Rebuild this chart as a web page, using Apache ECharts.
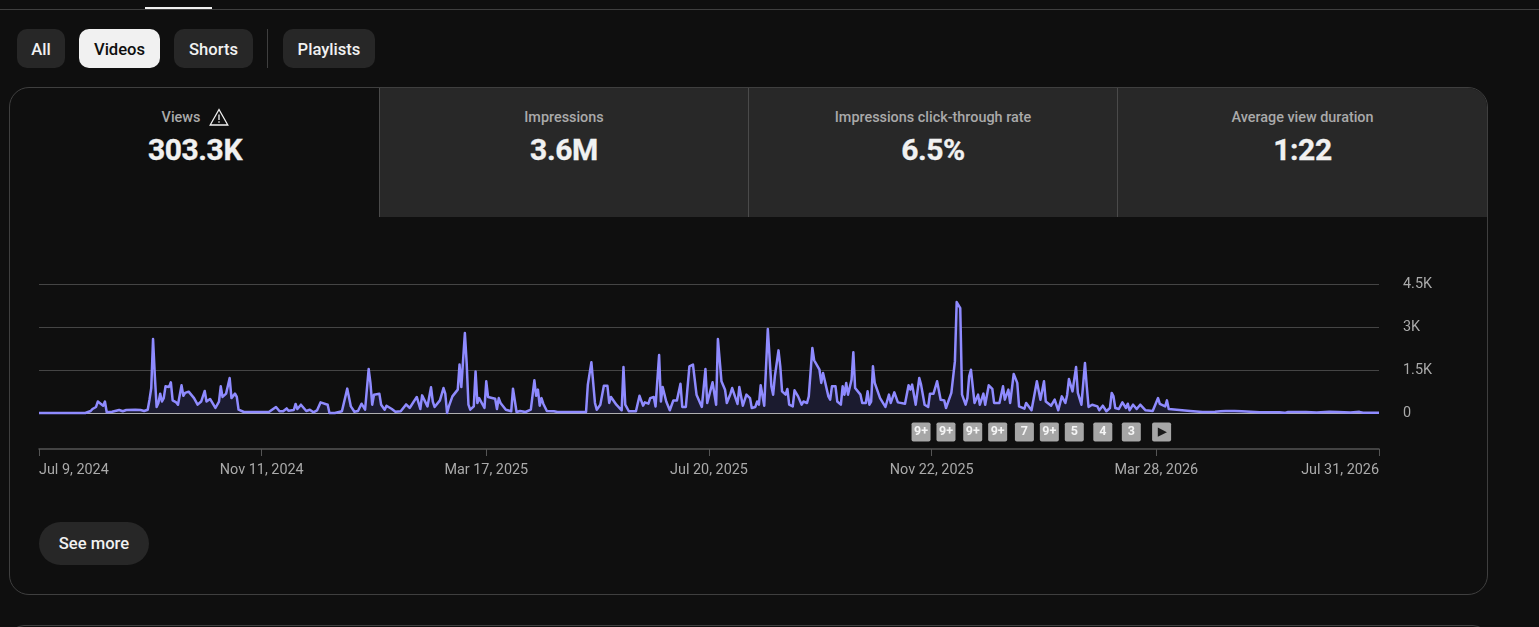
<!DOCTYPE html>
<html><head><meta charset="utf-8">
<script src="https://cdn.jsdelivr.net/npm/echarts@6/dist/echarts.min.js"></script>
<style>
html,body{margin:0;padding:0;background:#0f0f0f;width:1539px;height:627px;overflow:hidden;font-family:Roboto,sans-serif}
#chart{position:absolute;left:0;top:0;width:1539px;height:627px}
.a{position:absolute;box-sizing:border-box}
.chip{top:29px;height:39px;border-radius:10px;background:#272727;color:#f1f1f1;font-size:16.6px;font-weight:500;line-height:41px;text-align:center}
.tab{top:88px;height:129px;background:#282828;border-left:1px solid #4a4a4a}
.lab{top:110px;font-size:14.4px;line-height:16px;font-weight:500;color:#aaa;text-align:center}
.val{top:132px;font-size:30px;line-height:36px;font-weight:700;color:#f1f1f1;text-align:center;letter-spacing:-.4px;-webkit-text-stroke:.35px #f1f1f1}
</style></head><body>
<div class="a" style="left:0;top:9px;width:1539px;height:1px;background:#3f3f3f"></div>
<div class="a" style="left:145px;top:7px;width:67px;height:2px;background:#f1f1f1"></div>
<div class="a chip" style="left:17px;width:48px">All</div>
<div class="a chip" style="left:79px;width:81px;background:#f1f1f1;color:#0f0f0f">Videos</div>
<div class="a chip" style="left:174px;width:79px">Shorts</div>
<div class="a" style="left:267px;top:29px;width:1px;height:39px;background:#3f3f3f"></div>
<div class="a chip" style="left:283px;width:92px">Playlists</div>
<div class="a" style="left:9px;top:87px;width:1479px;height:508px;border:1px solid #3f3f3f;border-radius:20px;overflow:hidden">
</div>
<div class="a tab" style="left:379px;width:369px"></div>
<div class="a tab" style="left:748px;width:369px"></div>
<div class="a tab" style="left:1117px;width:370px;border-top-right-radius:19px"></div>
<div class="a lab" style="left:10px;width:342px">Views</div>
<svg class="a" style="left:209px;top:108px" width="20" height="18" viewBox="0 0 20 18"><path d="M10 1.5 L18.8 17 H1.2 Z" fill="none" stroke="#f1f1f1" stroke-width="1.3"/><path d="M10 6.5v5.5M10 13.2v1.6" stroke="#f1f1f1" stroke-width="1.3"/></svg>
<div class="a val" style="left:10px;width:370px">303.3K</div>
<div class="a lab" style="left:380px;width:368px">Impressions</div>
<div class="a val" style="left:380px;width:368px">3.6M</div>
<div class="a lab" style="left:749px;width:368px">Impressions click-through rate</div>
<div class="a val" style="left:749px;width:368px">6.5%</div>
<div class="a lab" style="left:1118px;width:369px">Average view duration</div>
<div class="a val" style="left:1118px;width:369px">1:22</div>
<div class="a chip" style="left:39px;top:522px;width:110px;height:43px;line-height:43px;border-radius:22px">See more</div>
<div class="a" style="left:9px;top:625px;width:1479px;height:30px;border:1px solid #3f3f3f;border-radius:20px"></div>
<div id="chart"></div>
<script>
// [day offset from the start date, views]
const startDate = '2024-07-09';
const views2024 = [[0,0],[26,0],[29,70],[30,140],[32,210],[33,400],[34,465],[36,255],[37,400],[38,25],[41,45],[45,105],[47,60],[49,105],[50,70],[54,115],[57,105],[59,70],[61,115],[62,465],[63,870],[64,2580],[65,1300],[66,210],[67,350],[68,675],[69,400],[70,520],[71,930],[73,910],[74,1070],[75,440],[77,370],[78,290],[80,965],[81,600],[82,700],[84,745],[87,520],[89,290],[91,400],[93,770],[94,400],[96,490],[99,175],[101,400],[102,930],[103,560],[105,675],[107,1220],[108,520],[110,675],[111,560],[112,115],[115,35],[129,35],[133,210],[135,60],[137,60],[139,160],[140,80],[143,105],[144,315],[145,140],[147,290],[148,340],[150,70],[152,115],[154,25],[156,90],[158,370],[159,385],[162,290],[163,0],[166,0],[170,60],[173,850],[175,230]];
const views2025a = [[177,45],[179,70],[181,325],[183,115],[184,90],[185,1535],[186,1050],[187,290],[188,640],[191,675],[192,290],[194,115],[195,255],[198,140],[200,45],[203,60],[204,0],[206,300],[208,175],[209,160],[212,560],[214,140],[215,615],[216,580],[218,230],[220,895],[221,400],[222,210],[225,440],[226,490],[227,870],[228,675],[229,0],[230,230],[231,175],[232,580],[235,815],[236,1690],[237,905],[239,2790],[240,1750],[241,290],[242,115],[244,230],[245,1450],[246,350],[247,520],[250,175],[251,1105],[252,560],[256,500],[257,140],[258,520],[259,350],[260,385],[262,115],[265,60],[266,850],[268,35],[270,70],[273,35],[276,115],[278,1140],[279,600],[280,815],[281,255],[282,520],[283,325],[284,325],[285,70],[289,60],[290,80],[291,35],[302,35],[303,0],[307,35],[308,990],[309,1020],[310,1770],[312,350],[313,115],[315,290],[317,950],[319,950],[320,350],[321,560],[324,290],[327,95],[328,1605],[329,290],[331,60],[335,60],[337,600],[339,255],[340,370],[342,325],[343,520],[344,465],[345,560],[346,230],[348,2020],[349,400],[350,905],[352,400],[354,95],[356,440],[358,440],[360,1020],[361,210],[363,210],[365,1630],[367,1690],[369,640],[371,350],[372,210],[374,1535],[375,350],[376,370],[378,1070],[380,290],[381,2580],[383,1105],[385,815],[386,350],[387,350],[388,665],[389,870],[392,315],[393,905],[395,255],[397,640],[399,520],[400,175],[402,210],[403,400],[404,290],[405,965],[407,255],[409,2930],[410,2940],[411,930],[412,640],[413,1300],[414,1340],[415,2185],[416,1630],[417,755],[419,640],[420,840],[421,290],[423,230],[424,790],[426,580],[428,290],[429,400],[431,350],[432,580],[434,2270],[435,1840],[438,1510],[439,1050],[440,1395],[441,1370],[443,580],[444,465],[445,930],[447,930],[448,400],[450,290],[451,930],[452,640],[453,1050],[454,640],[456,1160],[457,2115],[458,870],[461,640],[462,350],[464,350],[465,755],[466,290],[467,400],[468,1630],[469,1050],[470,1020],[472,520],[475,210],[477,640],[478,350],[480,720],[482,370],[486,325],[488,965],[489,815],[490,990],[492,290],[494,1220],[495,990],[497,290],[499,210]];
const views2026 = [[500,675],[502,675],[504,1105],[506,465],[508,440],[509,175],[512,700],[514,1800],[515,3870],[516,3840],[517,3660],[518,640],[519,640],[520,290],[521,520],[522,1280],[523,1510],[525,350],[527,640],[528,290],[530,675],[531,290],[533,965],[535,840],[536,350],[539,350],[541,930],[542,465],[544,815],[545,350],[547,1360],[549,1050],[550,230],[553,150],[554,350],[557,95],[558,95],[560,1105],[562,465],[564,1105],[565,400],[568,255],[570,465],[572,95],[574,580],[576,350],[577,640],[578,1186],[580,755],[582,1605],[583,700],[585,290],[586,350],[587,1745],[588,930],[589,210],[591,290],[594,230],[595,95],[597,255],[599,60],[601,175],[602,700],[603,580],[604,175],[606,140],[608,370],[610,175],[611,325],[612,95],[614,290],[616,140],[618,290],[621,95],[625,70],[626,60],[628,520],[629,315],[632,230],[633,440],[634,140],[635,80],[646,70],[647,35],[653,35],[654,80],[655,35],[656,70],[660,40],[661,70],[663,65],[664,40],[666,70],[667,40],[671,70],[672,40],[675,60],[676,35],[685,30],[686,5],[687,30],[696,30],[697,10],[699,5],[701,35],[707,35],[708,10],[711,35],[712,10],[717,15],[718,45],[724,40],[729,35],[730,10],[736,15],[737,55],[741,40],[742,50],[743,10],[752,10]];
const yTicks = [0,1500,3000,4500];
const yLabels = ['0','1.5K','3K','4.5K'];
const tickDates = ['2024-07-09','2024-11-11','2025-03-17','2025-07-20','2025-11-22','2026-03-28','2026-07-31'];
const tickLabels = ['Jul 9, 2024','Nov 11, 2024','Mar 17, 2025','Jul 20, 2025','Nov 22, 2025','Mar 28, 2026','Jul 31, 2026'];
const badgeDays = [495,509,524,538,553,567,581,597,613,630];
const badgeLabels = ['9+','9+','9+','9+','7','9+','5','4','3','▶'];

const DAY = 86400000, t0 = Date.parse(startDate + 'T00:00:00Z');
const toTime = d => t0 + d * DAY;
const tickTimes = tickDates.map(d => Date.parse(d + 'T00:00:00Z'));
const lineData = [...views2024, ...views2025a, ...views2026].map(([d, v]) => [toTime(d), v]);
const badgeData = badgeDays.map((d, i) => ({
  value: [toTime(d), -660],
  label: badgeLabels[i] === '▶' ? { formatter: badgeLabels[i], color: '#1a1a1a', fontSize: 11 } : { formatter: badgeLabels[i] }
}));
const chart = echarts.init(document.getElementById('chart'), null, { renderer: 'canvas' });
chart.setOption({
  animation: false,
  backgroundColor: 'transparent',
  textStyle: { fontFamily: 'Roboto' },
  grid: { left: 39, right: 160, top: 284, bottom: 214 },
  xAxis: {
    type: 'value', min: tickTimes[0], max: tickTimes[tickTimes.length - 1],
    offset: 36, splitLine: { show: false },
    axisLine: { show: true, onZero: false, lineStyle: { color: '#555', width: 1.5 } },
    axisTick: { show: true, length: 7, customValues: tickTimes, lineStyle: { color: '#555', width: 1 } },
    axisLabel: {
      customValues: tickTimes, color: '#aaa', fontSize: 14.4, margin: 14, hideOverlap: false,
      alignMinLabel: 'left', alignMaxLabel: 'right',
      formatter: v => tickLabels[tickTimes.indexOf(v)] ?? ''
    }
  },
  yAxis: {
    type: 'value', position: 'right', min: 0, max: 4500, interval: 1500,
    axisLine: { show: false }, axisTick: { show: false },
    axisLabel: { color: '#aaa', fontSize: 14.4, margin: 24, align: 'left', verticalAlign: 'middle', padding: [3, 0, 0, 0], formatter: v => yLabels[yTicks.indexOf(v)] },
    splitLine: { show: true, lineStyle: { color: ['#b0b0b0', '#454545', '#454545', '#454545'], width: 1.2 } }
  },
  series: [
    { type: 'line', data: lineData, showSymbol: false, smooth: false, clip: false, z: 3,
      lineStyle: { color: '#8f8bff', width: 2.5, join: 'round' },
      areaStyle: { color: '#1b1b2f', opacity: 1 } },
    { type: 'scatter', data: badgeData, clip: false,
      symbol: 'path://M2 0H18Q20 0 20 2V18Q20 20 18 20H2Q0 20 0 18V2Q0 0 2 0Z', symbolSize: [19, 19], z: 4,
      itemStyle: { color: '#a6a6a6', opacity: 1 },
      label: { show: true, position: 'inside', color: '#f5f5f5', fontSize: 12.5, fontWeight: 700, fontFamily: 'Roboto' } }
  ]
});
</script>
</body></html>
